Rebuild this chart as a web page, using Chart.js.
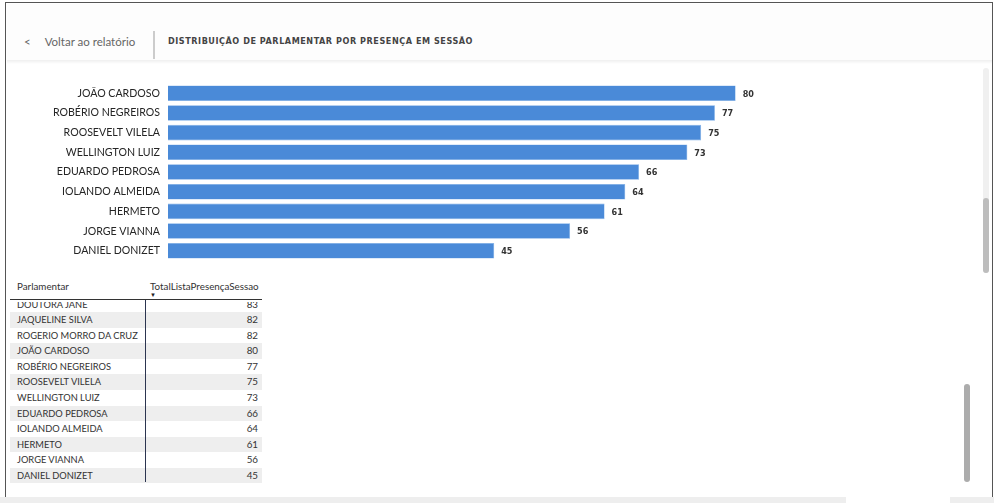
<!DOCTYPE html>
<html>
<head>
<meta charset="utf-8">
<script src="https://cdn.jsdelivr.net/npm/chart.js@4.4.1/dist/chart.umd.min.js"></script>
<style>
  html, body { margin: 0; padding: 0; background: #fff; }
  body { width: 1000px; height: 503px; position: relative; overflow: hidden; font-family: Lato, "Noto Sans", sans-serif; }
  .frame { position: absolute; left: 5px; top: 2px; width: 988px; height: 510px; border: 1.5px solid #555; box-sizing: border-box; }
  .header { position: absolute; left: 7px; top: 4px; width: 986px; height: 56px; background: #fdfdfd; }
  .shadow { position: absolute; left: 7px; top: 60px; width: 986px; height: 4px; background: linear-gradient(#efefef, #fff); }
  .back { position: absolute; left: 24px; top: 35px; font-size: 11.5px; color: #666; }
  .back span { margin-right: 14px; }
  .divider { position: absolute; left: 153px; top: 31px; width: 1.5px; height: 28px; background: #ccc; }
  .title { position: absolute; left: 168px; top: 36px; font-family: "DejaVu Sans Condensed", "DejaVu Sans", sans-serif; font-weight: bold; font-size: 9px; letter-spacing: 0.55px; color: #444; }
  #chartBox { position: absolute; left: 6px; top: 69px; width: 900px; height: 206px; }
  .sb-track { position: absolute; left: 983px; top: 68px; width: 6px; height: 205px; background: #f0f0f0; border-radius: 3px; }
  .sb-thumb { position: absolute; left: 983px; top: 198px; width: 6px; height: 75px; background: #bdbdbd; border-radius: 3px; }
  .sb2 { position: absolute; left: 964px; top: 384px; width: 6px; height: 98px; background: #acacac; border-radius: 3px; }
  .bottom { position: absolute; left: 0; top: 497px; width: 994px; height: 6px; background: #eee; }
  .tab { position: absolute; left: 846px; top: 495px; width: 104px; height: 8px; background: #fff; }
  .tbl-head { position: absolute; top: 280px; font-size: 9.8px; color: #333; }
  .tbl-line { position: absolute; left: 10px; top: 299px; width: 252px; height: 1.2px; background: #333; }
  .arrow { position: absolute; left: 150px; top: 291px; font-size: 6px; color: #222; }
  #rows { position: absolute; left: 10px; top: 301.5px; width: 252px; height: 181.5px; overflow: hidden; }
  .row { position: absolute; left: 0; width: 252px; height: 15.57px; font-size: 9.3px; color: #333; line-height: 15.57px; }
  .row.alt { background: #eeeeee; }
  .row .n { position: absolute; left: 7px; }
  .row .v { position: absolute; right: 4px; font-size: 9.8px; }
  .vline { position: absolute; left: 144.5px; top: 300px; width: 1.2px; height: 182px; background: #2c3550; }
</style>
</head>
<body>
<div class="header"></div>
<div class="shadow"></div>
<div class="frame"></div>
<div class="back"><span>&lt;</span>Voltar ao relatório</div>
<div class="divider"></div>
<div class="title">DISTRIBUIÇÃO DE PARLAMENTAR POR PRESENÇA EM SESSÃO</div>
<div id="chartBox"><canvas id="chart"></canvas></div>
<div class="sb-track"></div>
<div class="sb-thumb"></div>
<div class="tbl-head" style="left:17px">Parlamentar</div>
<div class="tbl-head" style="left:150px">TotalListaPresençaSessao</div>
<div class="arrow">&#9660;</div>
<div class="tbl-line"></div>
<div id="rows"></div>
<div class="vline"></div>
<div class="sb2"></div>
<div class="bottom"></div>
<div class="tab"></div>
<script>
// parlamentares e total de presenças (tabela completa, ordem decrescente)
const parlamentares = [
  'DOUTORA JANE', 'JAQUELINE SILVA', 'ROGERIO MORRO DA CRUZ', 'JOÃO CARDOSO',
  'ROBÉRIO NEGREIROS', 'ROOSEVELT VILELA', 'WELLINGTON LUIZ', 'EDUARDO PEDROSA',
  'IOLANDO ALMEIDA', 'HERMETO', 'JORGE VIANNA', 'DANIEL DONIZET'
];
const presencas = [83, 82, 82, 80, 77, 75, 73, 66, 64, 61, 56, 45];

// o gráfico está rolado: só as últimas 9 barras aparecem
const primeiraVisivel = 3;
const categorias = parlamentares.slice(primeiraVisivel);
const valores = presencas.slice(primeiraVisivel);

// eixo x (escala do visual)
const eixoMin = -2.3;
const eixoMax = 104.7;

// tabela
const rowsEl = document.getElementById('rows');
parlamentares.forEach((nome, i) => {
  const row = document.createElement('div');
  row.className = 'row' + (i % 2 === 1 ? ' alt' : '');
  row.style.top = (-4.9 + i * 15.57) + 'px';
  row.innerHTML = '<span class="n">' + nome + '</span><span class="v">' + presencas[i] + '</span>';
  rowsEl.appendChild(row);
});

// rótulos de valor na ponta das barras
const rotulos = {
  id: 'rotulos',
  afterDatasetsDraw(chart) {
    const ctx = chart.ctx;
    const meta = chart.getDatasetMeta(0);
    ctx.save();
    ctx.font = 'bold 9px "DejaVu Sans Condensed", "DejaVu Sans", sans-serif';
    ctx.fillStyle = '#333';
    ctx.textBaseline = 'middle';
    meta.data.forEach((bar, i) => {
      ctx.fillText(chart.data.datasets[0].data[i], bar.x + 7, bar.y + 1);
    });
    ctx.restore();
  }
};

const ctx = document.getElementById('chart').getContext('2d');
new Chart(ctx, {
  type: 'bar',
  data: {
    labels: categorias,
    datasets: [{
      data: valores,
      base: eixoMin,
      backgroundColor: '#4a8ad8',
      borderColor: '#7fb0e8',
      borderWidth: 0.6,
      categoryPercentage: 0.79,
      barPercentage: 1
    }]
  },
  options: {
    indexAxis: 'y',
    responsive: true,
    maintainAspectRatio: false,
    animation: false,
    layout: { padding: 0 },
    plugins: { legend: { display: false }, tooltip: { enabled: false } },
    scales: {
      x: { display: false, min: eixoMin, max: eixoMax },
      y: {
        grid: { display: false, drawTicks: false },
        border: { display: false },
        ticks: { color: '#252525', padding: 8, font: { family: 'Lato', size: 10.6 } },
        afterFit(scale) { scale.width = 162; }
      }
    }
  },
  plugins: [rotulos]
});
</script>
</body>
</html>
